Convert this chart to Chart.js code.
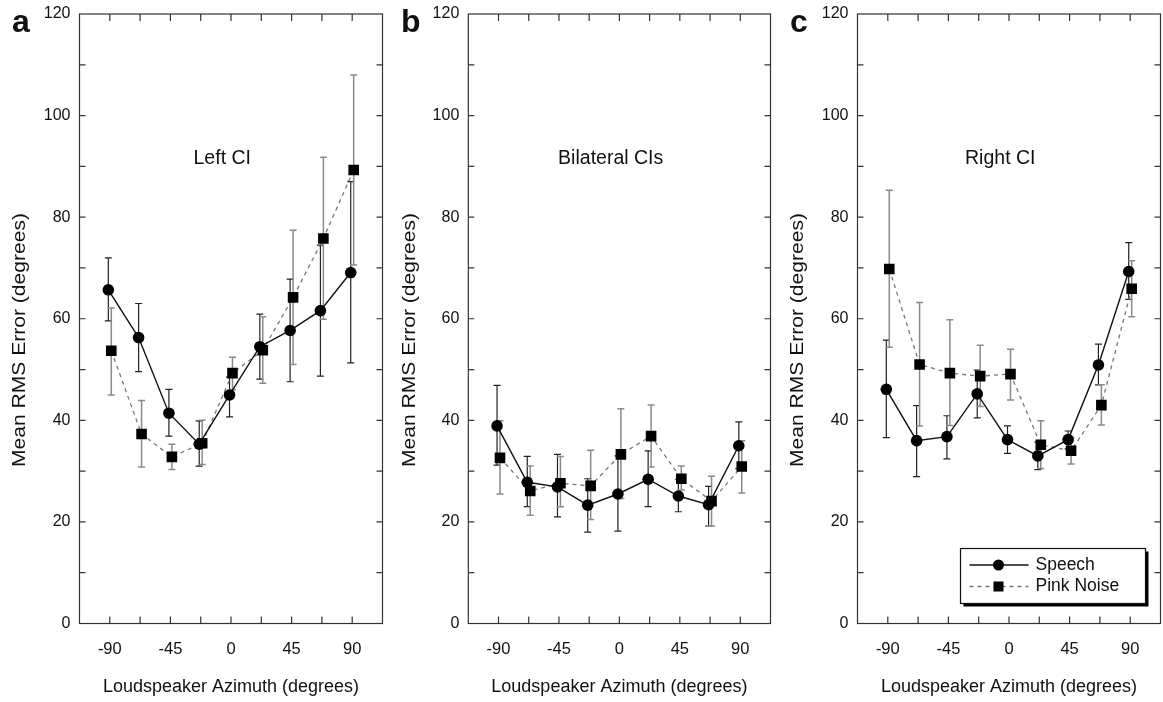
<!DOCTYPE html>
<html>
<head>
<meta charset="utf-8">
<script src="https://cdn.jsdelivr.net/npm/chart.js@4.4.0/dist/chart.umd.min.js"></script>
<style>
  html, body { margin: 0; padding: 0; background: #fff; }
  body { width: 1163px; height: 702px; position: relative; overflow: hidden; }
  .panel { position: absolute; top: 0; height: 702px; }
</style>
</head>
<body>
<div class="panel" style="left:0;width:390px"><canvas id="panelA"></canvas></div>
<div class="panel" style="left:390px;width:388px"><canvas id="panelB"></canvas></div>
<div class="panel" style="left:778px;width:390px"><canvas id="panelC"></canvas></div>
<script>
// loudspeaker positions (degrees)
const azimuths = [-90, -67.5, -45, -22.5, 0, 22.5, 45, 67.5, 90];
const xTickLabels = [-90, -45, 0, 45, 90];
const yTickLabels = [0, 20, 40, 60, 80, 100, 120];

// a - Left CI
const leftSpeech   = [65.7, 56.3, 41.4, 35.3, 45.0, 54.5, 57.7, 61.6, 69.1];
const leftSpeechLo = [59.6, 49.6, 36.9, 31.0, 40.7, 48.1, 47.6, 48.7, 51.3];
const leftSpeechHi = [72.0, 63.0, 46.1, 39.9, 48.5, 60.9, 67.8, 74.5, 87.0];
const leftNoise    = [53.7, 37.3, 32.8, 35.5, 49.3, 53.8, 64.2, 75.8, 89.3];
const leftNoiseLo  = [45.0, 30.8, 30.3, 31.3, 46.0, 47.3, 51.0, 59.9, 70.6];
const leftNoiseHi  = [62.1, 43.9, 35.3, 40.0, 52.4, 60.4, 77.4, 91.8, 108.0];

// b - Bilateral CIs
const bilatSpeech   = [38.9, 27.8, 26.9, 23.3, 25.5, 28.4, 25.1, 23.4, 35.0];
const bilatSpeechLo = [31.2, 23.0, 21.0, 18.0, 18.2, 23.0, 22.0, 19.2, 30.5];
const bilatSpeechHi = [46.9, 32.9, 33.3, 28.5, 33.0, 34.0, 28.4, 27.0, 39.7];
const bilatNoise    = [32.6, 26.1, 27.6, 27.1, 33.3, 36.9, 28.5, 24.1, 30.9];
const bilatNoiseLo  = [25.5, 21.3, 23.0, 20.5, 24.6, 30.8, 26.3, 19.2, 25.7];
const bilatNoiseHi  = [39.9, 31.0, 32.9, 34.1, 42.3, 43.0, 31.0, 29.0, 36.0];

// c - Right CI
const rightSpeech   = [46.1, 36.0, 36.8, 45.2, 36.2, 33.0, 36.2, 50.9, 69.3];
const rightSpeechLo = [36.6, 28.9, 32.4, 40.5, 33.5, 30.3, 34.4, 47.0, 63.8];
const rightSpeechHi = [55.8, 42.9, 40.9, 49.9, 38.9, 35.7, 37.9, 55.0, 75.0];
const rightNoise    = [69.8, 51.0, 49.3, 48.7, 49.1, 35.2, 34.0, 43.0, 65.9];
const rightNoiseLo  = [54.4, 38.9, 39.0, 42.7, 44.0, 30.5, 31.4, 39.1, 60.4];
const rightNoiseHi  = [85.3, 63.2, 59.8, 54.8, 54.0, 39.9, 36.6, 47.0, 71.4];

const FONT = "'Liberation Sans', Arial, Helvetica, sans-serif";
const DODGE = 1.1; // the two series are drawn slightly apart

function pts(vals, shift) {
  return azimuths.map((a, i) => ({ x: a + shift, y: vals[i] }));
}

// error bars, drawn under the markers
const errorBars = {
  id: "errorBars",
  beforeDatasetsDraw(chart) {
    const { ctx, scales: { x, y } } = chart;
    chart.data.datasets.forEach((ds) => {
      ctx.save();
      ctx.strokeStyle = ds.errColor;
      ctx.lineWidth = ds.errWidth;
      ds.data.forEach((p, i) => {
        const px = x.getPixelForValue(p.x);
        const lo = y.getPixelForValue(ds.errLo[i]);
        const hi = y.getPixelForValue(ds.errHi[i]);
        ctx.beginPath();
        ctx.moveTo(px, lo); ctx.lineTo(px, hi);
        ctx.moveTo(px - 3.5, lo); ctx.lineTo(px + 3.5, lo);
        ctx.moveTo(px - 3.5, hi); ctx.lineTo(px + 3.5, hi);
        ctx.stroke();
      });
      ctx.restore();
    });
  },
};

// closed frame with inward ticks on all four sides, panel letter, titles
const frame = {
  id: "frame",
  afterDraw(chart, args, opts) {
    const { ctx, chartArea: ca, scales: { x, y } } = chart;
    ctx.save();
    ctx.strokeStyle = "#333";
    ctx.lineWidth = 1.2;
    ctx.strokeRect(ca.left, ca.top, ca.right - ca.left, ca.bottom - ca.top);
    ctx.beginPath();
    x.ticks.forEach((t) => {
      const px = x.getPixelForValue(t.value);
      if (px <= ca.left + 1 || px >= ca.right - 1) return;
      ctx.moveTo(px, ca.bottom); ctx.lineTo(px, ca.bottom - 7);
      ctx.moveTo(px, ca.top); ctx.lineTo(px, ca.top + 7);
    });
    y.ticks.forEach((t) => {
      const py = y.getPixelForValue(t.value);
      if (py <= ca.top + 1 || py >= ca.bottom - 1) return;
      ctx.moveTo(ca.left, py); ctx.lineTo(ca.left + 6, py);
      ctx.moveTo(ca.right, py); ctx.lineTo(ca.right - 6, py);
    });
    ctx.stroke();

    ctx.fillStyle = "#111";
    ctx.font = "bold 32px " + FONT;
    ctx.textAlign = "left";
    ctx.textBaseline = "alphabetic";
    ctx.fillText(opts.letter, opts.letterX, 32);

    ctx.font = "19.5px " + FONT;
    ctx.textAlign = "center";
    ctx.textBaseline = "middle";
    ctx.fillText(opts.title, x.getPixelForValue(opts.titleAt), y.getPixelForValue(91.6));

    // y axis title (the original lettering is a bit drawn out along the axis)
    ctx.translate(20, 340);
    ctx.rotate(-Math.PI / 2);
    ctx.scale(1.17, 1);
    ctx.font = "18px " + FONT;
    ctx.fillText("Mean RMS Error (degrees)", 0, 0);
    ctx.restore();
  },
};

// boxed legend with drop shadow in the lower right corner
const boxLegend = {
  id: "boxLegend",
  afterDraw(chart, args, opts) {
    if (!opts.show) return;
    const { ctx, chartArea: ca } = chart;
    const w = 185, h = 55;
    const bx = ca.right - 15 - w, by = ca.bottom - 20 - h;
    ctx.save();
    ctx.fillStyle = "#000";
    ctx.fillRect(bx + 3, by + 3, w, h);
    ctx.fillStyle = "#fff";
    ctx.fillRect(bx, by, w, h);
    ctx.strokeStyle = "#111";
    ctx.lineWidth = 1.2;
    ctx.strokeRect(bx, by, w, h);
    ctx.font = "17.5px " + FONT;
    ctx.textBaseline = "middle";
    ctx.textAlign = "left";
    chart.data.datasets.forEach((ds, i) => {
      const ry = by + 16.5 + i * 21.5;
      ctx.strokeStyle = ds.borderColor;
      ctx.lineWidth = ds.borderWidth;
      ctx.setLineDash(ds.borderDash || []);
      ctx.beginPath();
      ctx.moveTo(bx + 9, ry); ctx.lineTo(bx + 68, ry);
      ctx.stroke();
      ctx.setLineDash([]);
      ctx.fillStyle = "#000";
      if (ds.pointStyle === "rect") {
        ctx.fillRect(bx + 33, ry - 5, 10, 10);
      } else {
        ctx.beginPath(); ctx.arc(bx + 38, ry, 5.5, 0, Math.PI * 2); ctx.fill();
      }
      ctx.fillStyle = "#111";
      ctx.fillText(ds.label, bx + 75, ry);
    });
    ctx.restore();
  },
};

function makePanel(id, cfg) {
  new Chart(document.getElementById(id), {
    type: "scatter",
    data: {
      datasets: [
        {
          label: "Speech",
          data: pts(cfg.speech, -DODGE),
          errLo: cfg.speechLo, errHi: cfg.speechHi,
          errColor: "#222", errWidth: 1.2,
          showLine: true,
          borderColor: "#111", borderWidth: 1.4,
          pointStyle: "circle", pointRadius: 5.8,
          pointBackgroundColor: "#000", pointBorderColor: "#000", pointBorderWidth: 0,
        },
        {
          label: "Pink Noise",
          data: pts(cfg.noise, DODGE),
          errLo: cfg.noiseLo, errHi: cfg.noiseHi,
          errColor: "#8a8a8a", errWidth: 1.5,
          showLine: true,
          borderColor: "#777", borderWidth: 1.3, borderDash: [4, 4],
          pointStyle: "rect", pointRadius: 7.5,
          pointBackgroundColor: "#000", pointBorderColor: "#000", pointBorderWidth: 0,
        },
      ],
    },
    options: {
      responsive: true,
      maintainAspectRatio: false,
      animation: false,
      layout: { padding: { top: 14, right: cfg.padRight, left: 0, bottom: 0 } },
      plugins: {
        legend: { display: false },
        tooltip: { enabled: false },
        frame: { letter: cfg.letter, letterX: cfg.letterX, title: cfg.title, titleAt: cfg.titleAt },
        boxLegend: { show: cfg.legend },
      },
      scales: {
        x: {
          type: "linear",
          min: -112.5, max: 112.5,
          grid: { display: false, drawTicks: false },
          border: { display: false },
          ticks: {
            stepSize: 22.5,
            autoSkip: false,
            maxRotation: 0,
            padding: 16,
            color: "#111",
            font: { family: FONT, size: 16.5 },
            callback: (v) => (xTickLabels.includes(v) ? String(v) : ""),
          },
          title: {
            display: true,
            text: "Loudspeaker Azimuth (degrees)",
            color: "#111",
            font: { family: FONT, size: 18 },
            padding: { top: 0, bottom: 4 },
          },
          afterFit: (s) => {
            s.height = 78.5;
            s.paddingLeft = 0; s.paddingRight = 0;
          },
        },
        y: {
          min: 0, max: 120,
          grid: { display: false, drawTicks: false },
          border: { display: false },
          ticks: {
            stepSize: 10,
            autoSkip: false,
            padding: 9,
            color: "#111",
            font: { family: FONT, size: 16 },
            callback: (v) => (yTickLabels.includes(v) ? String(v) : ""),
          },
          afterFit: (s) => {
            s.width = cfg.yWidth;
            s.paddingTop = 0; s.paddingBottom = 0;
          },
        },
      },
    },
    plugins: [errorBars, frame, boxLegend],
  });
}

makePanel("panelA", {
  speech: leftSpeech, speechLo: leftSpeechLo, speechHi: leftSpeechHi,
  noise: leftNoise, noiseLo: leftNoiseLo, noiseHi: leftNoiseHi,
  letter: "a", letterX: 12, title: "Left CI", titleAt: -6.5,
  yWidth: 79.5, padRight: 5, legend: false,
});
makePanel("panelB", {
  speech: bilatSpeech, speechLo: bilatSpeechLo, speechHi: bilatSpeechHi,
  noise: bilatNoise, noiseLo: bilatNoiseLo, noiseHi: bilatNoiseHi,
  letter: "b", letterX: 11, title: "Bilateral CIs", titleAt: -6.5,
  yWidth: 78.3, padRight: 5, legend: false,
});
makePanel("panelC", {
  speech: rightSpeech, speechLo: rightSpeechLo, speechHi: rightSpeechHi,
  noise: rightNoise, noiseLo: rightNoiseLo, noiseHi: rightNoiseHi,
  letter: "c", letterX: 12, title: "Right CI", titleAt: -6.5,
  yWidth: 79.5, padRight: 6, legend: true,
});
</script>
</body>
</html>
